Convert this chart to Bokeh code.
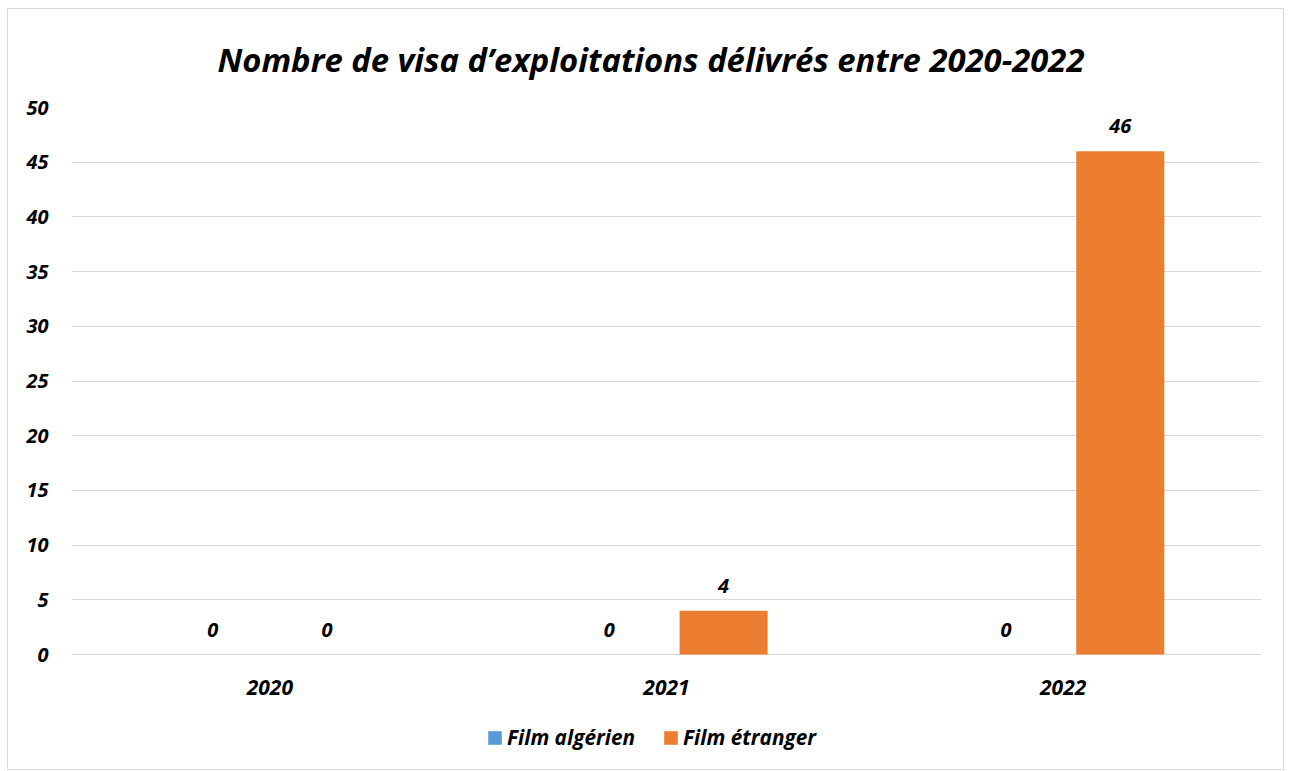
from bokeh.plotting import figure
from bokeh.models import ColumnDataSource, Legend, LegendItem, LabelSet
from bokeh.transform import dodge
from bokeh.core.properties import value
from bokeh.embed import file_html
from bokeh.resources import INLINE

years = ["2020", "2021", "2022"]
film_algerien = [0, 0, 0]
film_etranger = [0, 4, 46]
series_names = ["Film algérien", "Film étranger"]
colors = ["#5b9bd5", "#ed7d31"]
y_ticks = [0, 5, 10, 15, 20, 25, 30, 35, 40, 45, 50]

FONT = "Open Sans"

# layout (pixels)
W, H = 1277, 762
B_LEFT, B_RIGHT, B_TOP, B_BOTTOM = 63, 24, 98, 5
PX_PER_UNIT = 10.94
frame_h = H - B_TOP - B_BOTTOM
y_top = 50
y_bottom = y_top - frame_h / PX_PER_UNIT

src = ColumnDataSource(dict(
    year=years,
    alg=film_algerien,
    etr=film_etranger,
    alg_lbl=[str(v) for v in film_algerien],
    etr_lbl=[str(v) for v in film_etranger],
))

p = figure(x_range=years, y_range=(y_bottom, y_top), width=W, height=H,
           output_backend="svg", toolbar_location=None,
           title="Nombre de visa d’exploitations délivrés entre 2020-2022")
p.margin = (8, 0, 0, 7)
p.styles = {"border": "1px solid #d9d9d9", "box-sizing": "border-box"}
p.min_border_left = B_LEFT
p.min_border_right = B_RIGHT
p.min_border_top = B_TOP
p.min_border_bottom = B_BOTTOM
p.outline_line_color = None

p.title.text_font = FONT
p.title.text_font_style = "bold italic"
p.title.text_font_size = "32.8px"
p.title.align = "left"
p.title.offset = 146
p.title.text_color = "#000000"
p.title.standoff = 51

shift = 0.144
bw = 0.222
r1 = p.vbar(x=dodge("year", -shift, range=p.x_range), top="alg", width=bw,
            source=src, fill_color=colors[0], line_color=None)
r2 = p.vbar(x=dodge("year", shift, range=p.x_range), top="etr", width=bw,
            source=src, fill_color=colors[1], line_color=None)

for col, lbl, off in [("alg", "alg_lbl", -shift), ("etr", "etr_lbl", shift)]:
    ls = LabelSet(x=dodge("year", off, range=p.x_range), y=col, text=lbl,
                  source=src, text_align="center", text_baseline="bottom",
                  y_offset=18, text_font=value(FONT), text_font_style="bold italic",
                  text_font_size="20px", text_color="#000000")
    p.add_layout(ls)

# category labels below the zero line
cat = LabelSet(x="year", y=0, text="year", source=src, text_align="center",
               text_baseline="middle", y_offset=-33, text_font=value(FONT),
               text_font_style="bold italic", text_font_size="21px",
               text_color="#000000")
p.add_layout(cat)

p.xaxis.visible = False
p.yaxis.ticker = y_ticks
p.yaxis.axis_line_color = None
p.yaxis.major_tick_line_color = None
p.yaxis.minor_tick_line_color = None
p.yaxis.major_label_text_font = FONT
p.yaxis.major_label_text_font_style = "bold italic"
p.yaxis.major_label_text_font_size = "20px"
p.yaxis.major_label_text_color = "#000000"
p.yaxis.major_label_standoff = 17

p.xgrid.grid_line_color = None
p.ygrid.ticker = y_ticks
p.ygrid.grid_line_color = "#d9d9d9"
p.ygrid.grid_line_width = 1

legend = Legend(items=[LegendItem(label=series_names[0], renderers=[r1]),
                       LegendItem(label=series_names[1], renderers=[r2])],
                orientation="horizontal", location=(415, 15),
                label_text_font=FONT, label_text_font_style="bold italic",
                label_text_font_size="20.8px", label_text_color="#000000",
                glyph_width=17, glyph_height=17, label_height=17,
                spacing=27, label_standoff=4, border_line_color=None,
                background_fill_alpha=0, margin=0, padding=0)
p.add_layout(legend)

open("out.html", "w").write(file_html(p, INLINE))
